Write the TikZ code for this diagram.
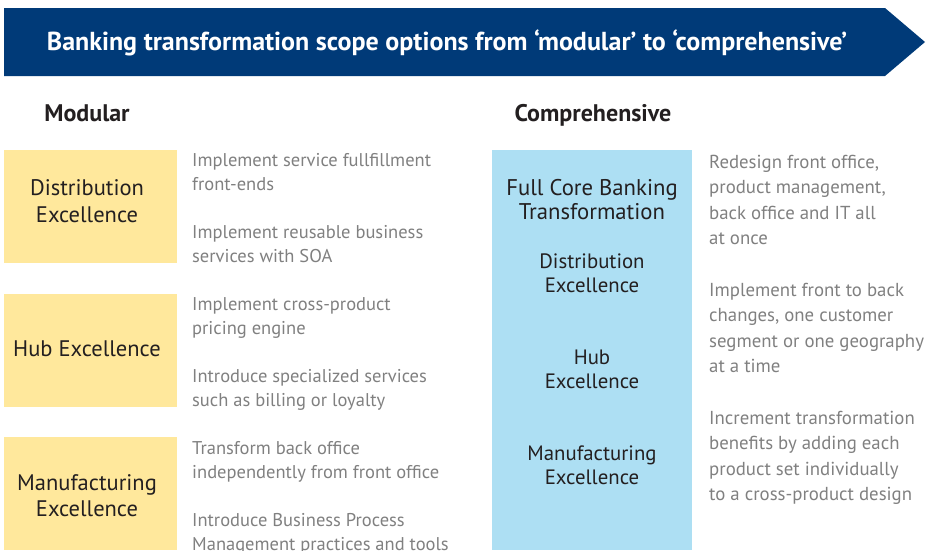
\documentclass[tikz,border=0pt]{standalone}
\usepackage{fontspec}
\setmainfont{PT Sans}
\usepackage{xcolor}
\usetikzlibrary{positioning}

\definecolor{bannerblue}{HTML}{003A78}
\definecolor{boxyellow}{HTML}{FFE89C}
\definecolor{boxblue}{HTML}{ADDFF3}
\definecolor{notegrey}{HTML}{808080}
\definecolor{labeldark}{HTML}{231F20}

\begin{document}
\begin{tikzpicture}[x=1pt, y=-1pt,
        scopebox/.style={rectangle, inner sep=0pt, minimum width=173pt, minimum height=113pt, fill=boxyellow},
        scopelabel/.style={text=labeldark, align=center, inner sep=0pt, font=\fontsize{22.5}{26.5}\selectfont},
        sublabel/.style={text=labeldark, align=center, inner sep=0pt, font=\fontsize{20.8}{24}\selectfont},
        note/.style={text=notegrey, align=left, anchor=north west, inner sep=0pt, font=\fontsize{18.5}{24}\selectfont},
        rnote/.style={note, font=\fontsize{18.8}{25.3}\selectfont},
        heading/.style={text=labeldark, inner sep=0pt, font=\bfseries\fontsize{24}{28}\selectfont}]
        \useasboundingbox (0,0) rectangle (927,550);

        \fill[bannerblue] (4,8) -- (885,8) -- (925,42) -- (885,76) -- (4,76) -- cycle;
        \node[text=white, font=\bfseries\fontsize{26}{30}\selectfont] (title) at (447,43)
            {Banking transformation scope options from ‘modular’ to ‘comprehensive’};

        \node[heading] (modular) at (87,113) {Modular};
        \node[heading] (comprehensive) at (593,115) {Comprehensive};

        \node[scopebox] (distribution) at (90.5,206.5) {};
        \node[scopebox] (hub) at (90.5,350.5) {};
        \node[scopebox] (manufacturing) at (90.5,493.5) {};
        \node[scopelabel] (ldistribution) at (87,201) {Distribution\\Excellence};
        \node[scopelabel] (lhub) at (87,349) {Hub Excellence};
        \node[scopelabel] (lmanufacturing) at (87,495.5) {Manufacturing\\Excellence};

        \fill[boxblue] (492,150) rectangle (692,550);
        \node[sublabel, font=\fontsize{22.7}{24}\selectfont] (fullcore) at (592,200) {Full Core Banking\\Transformation};
        \node[sublabel] (cdistribution) at (592,273) {Distribution\\Excellence};
        \node[sublabel] (chub) at (592,369) {Hub\\Excellence};
        \node[sublabel] (cmanufacturing) at (592,465) {Manufacturing\\Excellence};

        \node[note] (n1) at (192,153) {Implement service fullfillment\\front-ends};
        \node[note] (n2) at (192,225) {Implement reusable business\\services with SOA};
        \node[note] (n3) at (192,297) {Implement cross-product\\pricing engine};
        \node[note] (n4) at (192,369) {Introduce specialized services\\such as billing or loyalty};
        \node[note] (n5) at (192,441) {Transform back office\\independently from front office};
        \node[note] (n6) at (192,513) {Introduce Business Process\\Management practices and tools};

        \node[rnote] (r1) at (709,155) {Redesign front office,\\product management,\\back office and IT all\\at once};
        \node[rnote] (r2) at (709,283) {Implement front to back\\changes, one customer\\segment or one geography\\at a time};
        \node[rnote] (r3) at (709,411) {Increment transformation\\benefits by adding each\\product set individually\\to a cross-product design};
\end{tikzpicture}
\end{document}
